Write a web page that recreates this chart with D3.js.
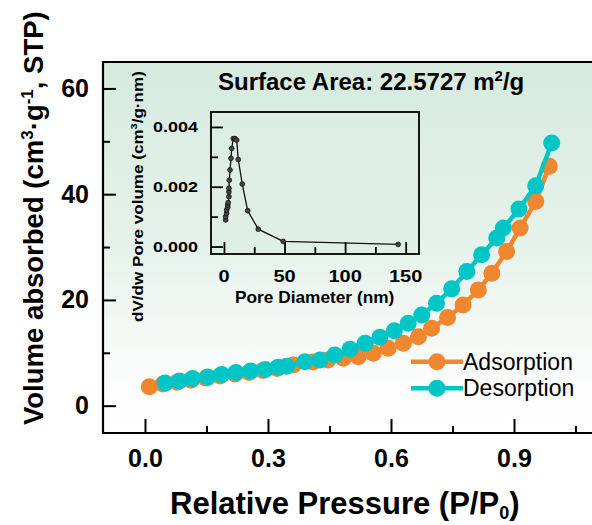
<!DOCTYPE html>
<html>
<head>
<meta charset="utf-8">
<script src="https://cdn.jsdelivr.net/npm/d3@7"></script>
<style>
  body { margin: 0; background: #fff; }
  text { font-family: "Liberation Sans", Arial, sans-serif; }
</style>
</head>
<body>
<div id="container"></div>
<script>
// adsorption branch (orange)
const adsP = [0.0105, 0.044, 0.078, 0.112, 0.149, 0.183, 0.220, 0.254, 0.288, 0.322, 0.362, 0.410, 0.446,
  0.484, 0.520, 0.557, 0.593, 0.630, 0.667, 0.699, 0.738, 0.776, 0.813, 0.846, 0.882, 0.915, 0.953, 0.986];
const adsV = [3.56, 4.08, 4.45, 4.83, 5.21, 5.59, 5.97, 6.26, 6.64, 7.01, 7.68, 8.25, 8.63,
  8.95, 9.25, 9.90, 10.84, 11.79, 13.04, 14.64, 16.68, 19.05, 21.90, 25.06, 29.16, 33.59, 38.63, 45.27];

// desorption branch (teal)
const desP = [0.049, 0.084, 0.116, 0.153, 0.187, 0.222, 0.258, 0.293, 0.325, 0.346, 0.390, 0.427, 0.463,
  0.500, 0.537, 0.573, 0.608, 0.642, 0.675, 0.711, 0.748, 0.785, 0.821, 0.858, 0.874, 0.912, 0.953, 0.992];
const desV = [4.30, 4.68, 5.14, 5.44, 5.90, 6.28, 6.58, 6.84, 7.28, 7.47, 8.30, 8.63, 9.57,
  10.65, 11.79, 12.93, 14.19, 15.59, 17.16, 19.37, 22.09, 25.36, 28.53, 31.70, 33.59, 37.19, 41.61, 49.68];

// pore size distribution (inset)
const poreD = [1.4, 1.4, 2.2, 2.2, 3.1, 3.1, 3.5, 4.1, 4.1, 4.1, 4.4, 5.0, 5.8, 6.4, 7.7, 9.1, 10.5,
  11.8, 15.1, 19.6, 28.3, 48.9, 143.8];
const poreV = [0.00089, 0.00100, 0.00111, 0.00122, 0.00131, 0.00139, 0.00147, 0.00167, 0.00183, 0.00195,
  0.00222, 0.00256, 0.00295, 0.00328, 0.00361, 0.00361, 0.00356, 0.00291, 0.00209, 0.00120, 0.00058,
  0.00017, 0.00007];

const xTicks = [0, 0.3, 0.6, 0.9];
const xMinor = [0.15, 0.45, 0.75, 1.05];
const yTicks = [0, 20, 40, 60];
const yMinor = [10, 30, 50];
const insetXTicks = [0, 50, 100, 150];
const insetXMinor = [25, 75, 125];
const insetYTicks = [0, 0.002, 0.004];
const insetYMinor = [0.001, 0.003];

const WIDTH = 592, HEIGHT = 525;
const ORANGE = '#f0862e', TEAL = '#00c5c6';

const svg = d3.select('#container').append('svg').attr('width', WIDTH).attr('height', HEIGHT);

const L = 103, T = 62, R = 596, B = 433;
const x = d3.scaleLinear().domain([-0.1024, 1.1]).range([L, R]);
const y = d3.scaleLinear().domain([-5.17, 65]).range([B, T]);

const defs = svg.append('defs');
const grad = defs.append('linearGradient').attr('id', 'bg').attr('x1', 0).attr('y1', 0).attr('x2', 0).attr('y2', 1);
grad.append('stop').attr('offset', '0%').attr('stop-color', '#d6eadf');
grad.append('stop').attr('offset', '50%').attr('stop-color', '#e6f2eb');
grad.append('stop').attr('offset', '88%').attr('stop-color', '#fcfdfc');
grad.append('stop').attr('offset', '100%').attr('stop-color', '#ffffff');

svg.append('rect').attr('x', L).attr('y', T).attr('width', R - L).attr('height', B - T).attr('fill', 'url(#bg)');

// ticks (inward)
const yAxis = svg.append('g').attr('transform', `translate(${L},0)`)
  .call(d3.axisLeft(y).tickValues(yTicks).tickSizeInner(-13).tickSizeOuter(0).tickPadding(14).tickFormat(d3.format('d')));
svg.append('g').attr('transform', `translate(${L},0)`)
  .call(d3.axisLeft(y).tickValues(yMinor).tickSizeInner(-7).tickSizeOuter(0).tickFormat(''));
const xAxis = svg.append('g').attr('transform', `translate(0,${B})`)
  .call(d3.axisBottom(x).tickValues(xTicks).tickSizeInner(-14).tickSizeOuter(0).tickPadding(16).tickFormat(d3.format('.1f')));
svg.append('g').attr('transform', `translate(0,${B})`)
  .call(d3.axisBottom(x).tickValues(xMinor).tickSizeInner(-7).tickSizeOuter(0).tickFormat(''));
svg.selectAll('.domain').remove();
svg.selectAll('.tick line').attr('stroke', '#000').attr('stroke-width', 2);
yAxis.selectAll('text').attr('font-size', 25).attr('font-weight', 'bold').attr('fill', '#000')
  .attr('font-family', '"Liberation Sans", Arial, sans-serif');
xAxis.selectAll('text').attr('font-size', 25).attr('font-weight', 'bold').attr('fill', '#000')
  .attr('font-family', '"Liberation Sans", Arial, sans-serif');

// frame
svg.append('path').attr('d', `M${R},${T}H${L}V${B}H${R}`).attr('fill', 'none').attr('stroke', '#000').attr('stroke-width', 2.2);

// series
function drawSeries(px, vy, color) {
  const pts = px.map((p, i) => [p, vy[i]]);
  svg.append('path').datum(pts)
    .attr('d', d3.line().x((d) => x(d[0])).y((d) => y(d[1])))
    .attr('fill', 'none').attr('stroke', color).attr('stroke-width', 4.5);
  svg.append('g').selectAll('circle').data(pts).join('circle')
    .attr('cx', (d) => x(d[0])).attr('cy', (d) => y(d[1])).attr('r', 8.5).attr('fill', color);
}
drawSeries(adsP, adsV, ORANGE);
drawSeries(desP, desV, TEAL);

// title
svg.append('text').attr('x', 218).attr('y', 90).attr('font-size', 24).attr('font-weight', 'bold')
  .text('Surface Area: 22.5727 m')
  .call((t) => {
    t.append('tspan').attr('dy', -9).attr('font-size', 15).text('2');
    t.append('tspan').attr('dy', 9).text('/g');
  });

// axis titles
svg.append('text').attr('x', 170).attr('y', 514).attr('font-size', 31).attr('font-weight', 'bold')
  .text('Relative Pressure (P/P')
  .call((t) => {
    t.append('tspan').attr('dy', 5).attr('font-size', 18).text('0');
    t.append('tspan').attr('dy', -5).text(')');
  });

svg.append('text').attr('transform', 'translate(43,425) rotate(-90)').attr('font-size', 27.5).attr('font-weight', 'bold')
  .text('Volume absorbed (cm')
  .call((t) => {
    t.append('tspan').attr('dy', -10).attr('font-size', 17).text('3');
    t.append('tspan').attr('dy', 10).text('·g');
    t.append('tspan').attr('dy', -10).attr('font-size', 17).text('-1');
    t.append('tspan').attr('dy', 10).text(', STP)');
  });

// legend
const legend = [['Adsorption', ORANGE], ['Desorption', TEAL]];
legend.forEach(([name, color], i) => {
  const ly = 361.7 + i * 26.6;
  svg.append('line').attr('x1', 411).attr('x2', 463).attr('y1', ly).attr('y2', ly)
    .attr('stroke', color).attr('stroke-width', 4.5);
  svg.append('circle').attr('cx', 437).attr('cy', ly).attr('r', 8.5).attr('fill', color);
  svg.append('text').attr('x', 463).attr('y', ly + 8).attr('font-size', 23).text(name);
});

// inset
const iL = 211, iT = 112, iR = 419, iB = 254;
const ix = d3.scaleLinear().domain([-10.7, 161]).range([iL, iR]);
const iy = d3.scaleLinear().domain([-0.00025, 0.0045]).range([iB, iT]);
const inset = svg.append('g');
inset.append('rect').attr('x', iL).attr('y', iT).attr('width', iR - iL).attr('height', iB - iT)
  .attr('fill', '#dcece2').attr('fill-opacity', 0.6);

inset.append('g').attr('transform', `translate(${iL},0)`)
  .call(d3.axisLeft(iy).tickValues(insetYTicks).tickSizeInner(-12).tickSizeOuter(0).tickFormat(''));
inset.append('g').attr('transform', `translate(${iL},0)`)
  .call(d3.axisLeft(iy).tickValues(insetYMinor).tickSizeInner(-7).tickSizeOuter(0).tickFormat(''));
inset.append('g').attr('transform', `translate(0,${iB})`)
  .call(d3.axisBottom(ix).tickValues(insetXTicks).tickSizeInner(-12).tickSizeOuter(0).tickFormat(''));
inset.append('g').attr('transform', `translate(0,${iB})`)
  .call(d3.axisBottom(ix).tickValues(insetXMinor).tickSizeInner(-7).tickSizeOuter(0).tickFormat(''));
inset.selectAll('.domain').remove();
inset.selectAll('.tick line').attr('stroke', '#000').attr('stroke-width', 1.8);

inset.selectAll('.ylab').data(insetYTicks).join('text')
  .attr('transform', (d) => `translate(198,${iy(d) + 5.5}) scale(1.2,1)`)
  .attr('text-anchor', 'end').attr('font-size', 15).attr('font-weight', 'bold')
  .text(d3.format('.3f'));
inset.selectAll('.xlab').data(insetXTicks).join('text')
  .attr('transform', (d) => `translate(${ix(d)},281.5) scale(1.25,1)`)
  .attr('text-anchor', 'middle').attr('font-size', 16).attr('font-weight', 'bold')
  .text((d) => d);

inset.append('text').attr('transform', 'translate(235,303) scale(1.08,1)').attr('font-size', 16).attr('font-weight', 'bold')
  .text('Pore Diameter (nm)');

inset.append('text').attr('transform', 'translate(143,322) rotate(-90) scale(1.22,1)').attr('font-size', 14).attr('font-weight', 'bold')
  .text('dV/dw Pore volume (cm')
  .call((t) => {
    t.append('tspan').attr('dy', -6).attr('font-size', 9).text('3');
    t.append('tspan').attr('dy', 6).text('/g·nm)');
  });

const porePts = poreD.map((d, i) => [d, poreV[i]]);
inset.append('path').datum(porePts)
  .attr('d', d3.line().x((d) => ix(d[0])).y((d) => iy(d[1])))
  .attr('fill', 'none').attr('stroke', '#111').attr('stroke-width', 1.3);
inset.append('g').selectAll('circle').data(porePts).join('circle')
  .attr('cx', (d) => ix(d[0])).attr('cy', (d) => iy(d[1])).attr('r', 2.4)
  .attr('fill', '#444').attr('stroke', '#111').attr('stroke-width', 0.8);

inset.append('rect').attr('x', iL).attr('y', iT).attr('width', iR - iL).attr('height', iB - iT)
  .attr('fill', 'none').attr('stroke', '#000').attr('stroke-width', 1.8);
</script>
</body>
</html>
